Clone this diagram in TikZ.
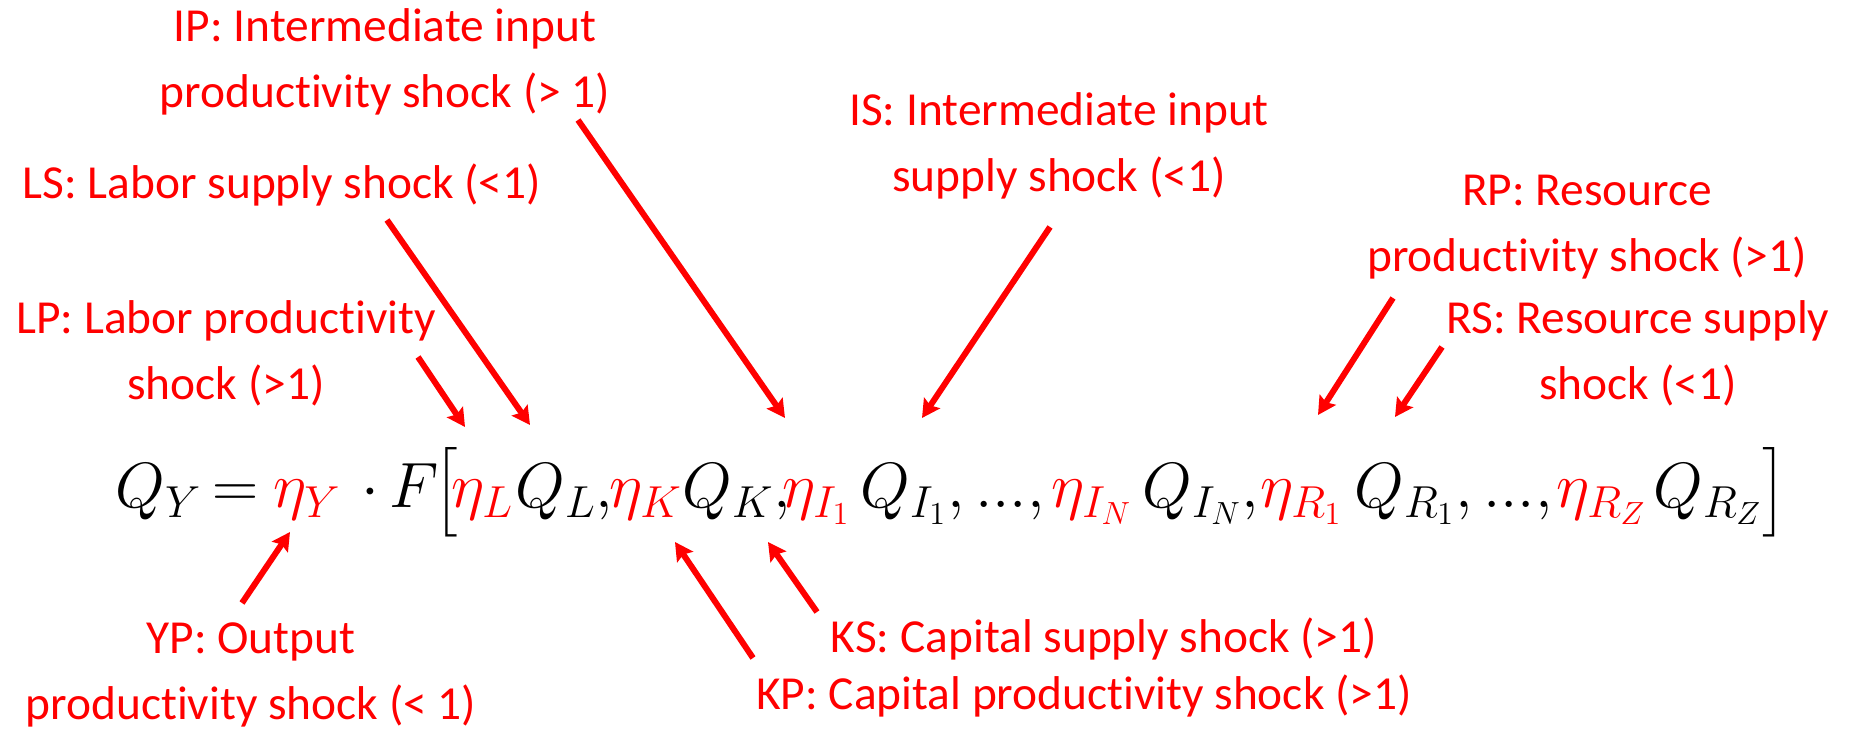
\RequirePackage{fix-cm}
\documentclass[tikz,border=0pt]{standalone}
\usepackage{amsmath}
\usepackage{fontspec}
\setmainfont{Carlito}[Ligatures=NoCommon]
\usetikzlibrary{arrows.meta}
\newcommand{\lbl}{\fontsize{23.7}{33}\selectfont}
\newcommand{\tdots}{{\ldotp}{\ldotp}{\ldotp}}

\begin{document}
\begin{tikzpicture}[
  x=0.5pt, y=-0.5pt,
  shock/.style={text=red, font=\lbl, align=center, inner sep=0pt, anchor=base},
  term/.style={inner sep=0pt, anchor=base west, font=\fontsize{32}{44}\selectfont},
  eta/.style={term, text=red},
  hit/.style={draw=red, line width=3pt, -{Stealth[length=9pt, width=9.5pt, inset=1.5pt]}},
]
\useasboundingbox (0,0) rectangle (1849,731);

% ---- the production function, one node per factor ----------------------
\node[term] (qy)  at (115,508)  {$Q_Y$};
\node[term] (eqs) at (212,508)  {$=$};
\node[eta]  (ey)  at (273,508)  {$\eta_Y$};
\node[term] (fn)  at (361,508)  {$\cdot\,F$};
\node[term] (lbr) at (434,508)  {$\bigl[$};
\node[eta]  (el)  at (451,508)  {$\eta_L$};
\node[term] (ql)  at (515,508)  {$Q_L,$};
\node[eta]  (ek)  at (609,508)  {$\eta_K$};
\node[term] (qk)  at (682,508)  {$Q_K,$};
\node[eta]  (ei1) at (782,508)  {$\eta_{I_1}$};
\node[term] (qi1) at (860,508)  {$Q_{I_1},\tdots,$};
\node[eta]  (ein) at (1051,508) {$\eta_{I_N}$};
\node[term] (qin) at (1142,508) {$Q_{I_N},$};
\node[eta]  (er1) at (1260,508) {$\eta_{R_1}$};
\node[term] (qr1) at (1354,508) {$Q_{R_1},\tdots,$};
\node[eta]  (erz) at (1556,508) {$\eta_{R_Z}$};
\node[term] (qrz) at (1653,508) {$Q_{R_Z}$};
\node[term] (rbr) at (1762,508) {$\bigr]$};

% ---- shocks above the equation -----------------------------------------
\node[shock] (ip) at (385,108)  {IP: Intermediate input\\productivity shock (> 1)};
\node[shock] (ls) at (282,199)  {LS: Labor supply shock (<1)};
\node[shock] (lp) at (226,400)  {LP: Labor productivity\\shock (>1)};
\node[shock] (is) at (1059,192) {IS: Intermediate input\\supply shock (<1)};
\node[shock] (rp) at (1587,272) {RP: Resource\\productivity shock (>1)};
\node[shock] (rs) at (1638,400) {RS: Resource supply\\shock (<1)};

% ---- shocks below the equation -----------------------------------------
\node[shock] (yp) at (251,720)  {YP: Output\\productivity shock (< 1)};
\node[shock] (ks) at (1104,653) {KS: Capital supply shock (>1)};
\node[shock] (kp) at (1084,710) {KP: Capital productivity shock (>1)};

\draw[hit] ([shift={(192,-43)}]lp.base)  -- ([shift={(14,-81)}]el.base west);
\draw[hit] ([shift={(105,21)}]ls.base)   -- ([shift={(15,-83)}]ql.base west);
\draw[hit] ([shift={(193,12)}]ip.base)   -- ([shift={(3,-90)}]ei1.base west);
\draw[hit] ([shift={(-9,35)}]is.base)    -- ([shift={(62,-90)}]qi1.base west);
\draw[hit] ([shift={(-194,26)}]rp.base)  -- ([shift={(58,-93)}]er1.base west);
\draw[hit] ([shift={(-196,-53)}]rs.base) -- ([shift={(41,-91)}]qr1.base west);
\draw[hit] ([shift={(-9,-117)}]yp.base)  -- ([shift={(17,24)}]ey.base west);
\draw[hit] ([shift={(-331,-52)}]kp.base) -- ([shift={(66,34)}]ek.base west);
\draw[hit] ([shift={(-287,-41)}]ks.base) -- ([shift={(-14,34)}]ei1.base west);

\end{tikzpicture}
\end{document}
